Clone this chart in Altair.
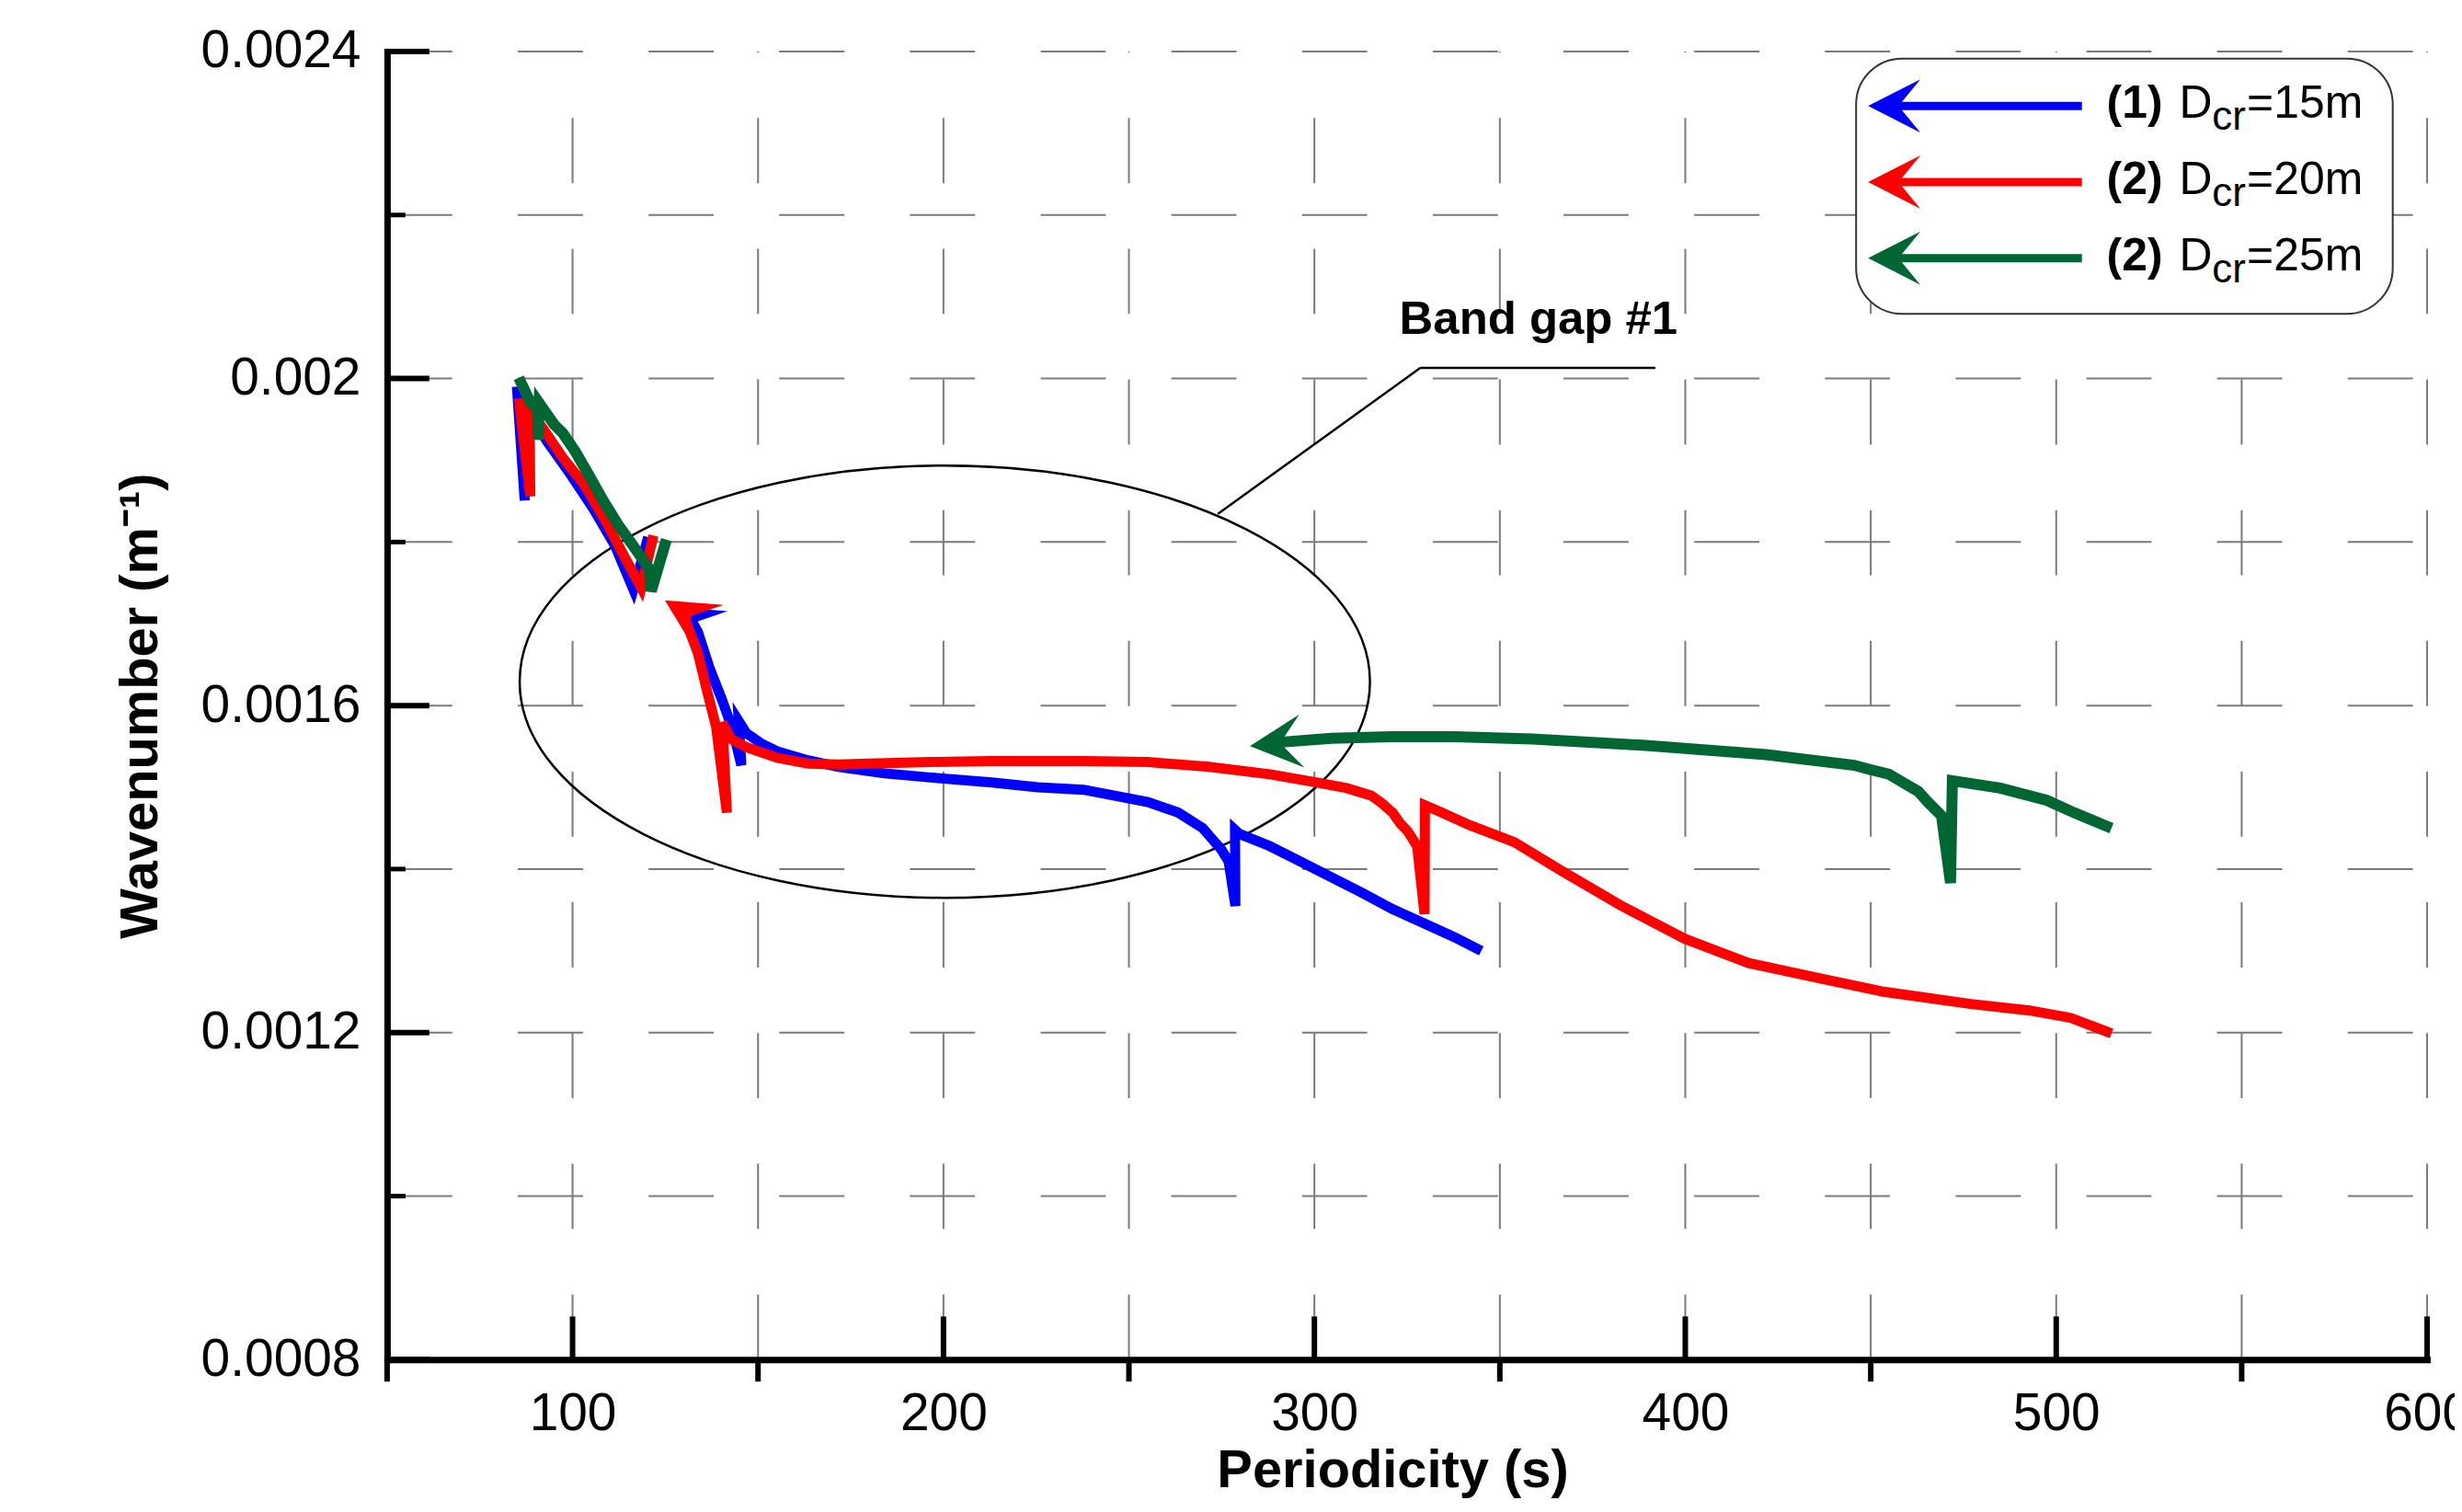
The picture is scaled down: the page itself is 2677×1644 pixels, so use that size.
import altair as alt
import pandas as pd

FONT = "Liberation Sans"

# ---------------- values ----------------
series_keys = ["15m", "20m", "25m"]
series_colors = ["#0000FF", "#FF0000", "#006633"]
series_widths = [11, 11, 12]

# D_cr = 15 m (blue)
blue_seg1_x = [85.0, 87.1, 86.9, 90.0, 93.3, 99.1, 105.7, 111.5, 116.4, 120.4]
blue_seg1_y = [0.00199, 0.001851, 0.00196, 0.001945, 0.001922, 0.001885, 0.00184, 0.001795, 0.001742, 0.001806]
blue_seg2_x = [130.8, 133.8, 137.0, 140.3, 143.2, 145.5, 144.8, 146.9, 151.1, 155.2, 163.5, 171.7, 184.1,
               196.5, 213.0, 225.4, 237.8, 255.1, 263.3, 269.9, 272.0, 274.9, 276.9, 278.7, 278.6, 279.8, 288.0,
               296.3, 304.6, 312.8, 321.1, 329.3, 337.6, 345.0]
blue_seg2_y = [0.001714, 0.00169, 0.001645, 0.001607, 0.00157, 0.001527, 0.001581, 0.001566, 0.001553,
               0.001544, 0.001533, 0.001525, 0.001517, 0.001512, 0.001506, 0.0015, 0.001497, 0.001482,
               0.001469, 0.00145, 0.001439, 0.001424, 0.001409, 0.001355, 0.001448, 0.001443, 0.001428, 0.001409,
               0.00139, 0.001371, 0.001351, 0.001334, 0.001317, 0.0013]

# D_cr = 20 m (red)
red_seg1_x = [85.5, 88.6, 88.4, 91.7, 97.4, 103.2, 109.0, 114.0, 118.5, 121.8]
red_seg1_y = [0.001976, 0.001856, 0.00196, 0.001941, 0.001903, 0.00187, 0.001825, 0.001782, 0.001744, 0.001808]
red_seg2_x = [129.8, 133.8, 136.2, 138.7, 141.6, 140.4, 142.8, 146.9, 155.2, 163.5, 171.7, 179.9, 196.5,
              213.0, 237.8, 255.1, 271.6, 288.0, 300.4, 308.7, 315.3, 318.2, 321.1, 323.1, 325.2, 327.7, 329.7,
              329.8, 333.4, 341.7, 353.9, 366.6, 382.4, 399.7, 417.1, 437.6, 453.4, 477.0, 492.8, 503.9, 514.9]
red_seg2_y = [0.001712, 0.001664, 0.001619, 0.001574, 0.001469, 0.001579, 0.001559, 0.001549, 0.001536,
              0.001529, 0.001528, 0.001529, 0.001531, 0.001532, 0.001532, 0.001531, 0.001525, 0.001516,
              0.001506, 0.001499, 0.00149, 0.0014805, 0.001469, 0.001456, 0.001446, 0.001428, 0.001345,
              0.001478, 0.001471, 0.001454, 0.001433, 0.001398, 0.001356, 0.001315, 0.001285, 0.001265,
              0.00125, 0.001235, 0.001227, 0.001218, 0.001199]

# D_cr = 25 m (green)
green_seg1_x = [85.5, 88.5, 90.6, 90.7, 91.0, 95.0, 97.4, 100.7, 104.0, 108.2, 112.3, 116.4, 120.6, 121.2, 125.3]
green_seg1_y = [0.002001, 0.001972, 0.001962, 0.001925, 0.00197, 0.001944, 0.001933, 0.001911, 0.001885,
                0.001851, 0.001821, 0.001795, 0.001768, 0.00174, 0.001803]
green_seg2_x = [290.5, 304.6, 321.1, 337.6, 358.7, 390.2, 421.8, 445.5, 449.6, 454.9, 458.3, 462.8, 465.4,
                469.1, 471.5, 472.0, 484.9, 497.5, 504.8, 514.9]
green_seg2_y = [0.001555, 0.00156, 0.001562, 0.001562, 0.001559, 0.001551, 0.00154, 0.001527, 0.001522,
                0.001516, 0.001507, 0.001495, 0.001482, 0.001465, 0.001383, 0.001508, 0.001499, 0.001484,
                0.001469, 0.00145]

# arrowhead tips at the start of the second branch of each curve
arrow_tip_x = [126.0, 124.9, 282.6]
arrow_tip_y = [0.001721, 0.0017286, 0.0015505]

# axes
x_major_ticks = [100, 200, 300, 400, 500, 600]
x_minor_ticks = [50, 150, 250, 350, 450, 550]
y_major_ticks = [0.0008, 0.0012, 0.0016, 0.002, 0.0024]
y_minor_ticks = [0.001, 0.0014, 0.0018, 0.0022]
x_grid = [50, 100, 150, 200, 250, 300, 350, 400, 450, 500, 550, 600]
y_grid = [0.0008, 0.001, 0.0012, 0.0014, 0.0016, 0.0018, 0.002, 0.0022, 0.0024]

# legend / annotation text
legend_numbers = ["(1)", "(2)", "(2)"]
legend_main = "D"
legend_sub = "cr"
legend_values = ["=15m", "=20m", "=25m"]
annotation_text = "Band gap #1"
x_title = "Periodicity (s)"
y_title = "Wavenumber (m\u207b\u00b9)"

# ---------------- layout / style ----------------
W, H = 2224, 1426
GRID = "#7a7a7a"
DASH = [71, 71.5]
ARROW = "M0,0 L1,-0.51 L0.58,0 L1,0.51 Z"
ARROW_SIZE = 12996
arrow_angles = [31.4, 31.4, 354.5]
ELLIPSE = ("M-1,0 C-1,-0.2807 -0.5523,-0.5083 0,-0.5083 C0.5523,-0.5083 1,-0.2807 1,0 "
           "C1,0.2807 0.5523,0.5083 0,0.5083 C-0.5523,0.5083 -1,0.2807 -1,0 Z")

xscale = alt.Scale(domain=[50, 600], nice=False, zero=False)
yscale = alt.Scale(domain=[0.0008, 0.0024], nice=False, zero=False)

xaxis = alt.Axis(values=x_major_ticks, format="d", title=x_title, titleFont=FONT, titleFontSize=58,
                 titleFontWeight="bold", titleColor="black", titleX=1096, titleY=139,
                 titleBaseline="alphabetic", titleAlign="center", titleAngle=0,
                 labelFont=FONT, labelFontSize=57, labelColor="black", labelPadding=31,
                 labelFlush=False, labelOverlap=False, labelBound=False,
                 ticks=False, tickSize=0, grid=False, domainColor="black", domainWidth=7,
                 domainCap="square", zindex=1)
yaxis = alt.Axis(values=y_major_ticks, format=".4~f", title=y_title, titleFont=FONT, titleFontSize=58,
                 titleFontWeight="bold", titleColor="black", titleX=-250.6, titleY=H / 2,
                 titleBaseline="alphabetic", titleAlign="center", titleAngle=270,
                 labelFont=FONT, labelFontSize=57, labelColor="black", labelPadding=29,
                 labelFlush=False, labelOverlap=False, labelBound=False,
                 ticks=False, tickSize=0, grid=False, domainColor="black", domainWidth=7,
                 domainCap="square", zindex=1)


def X():
    return alt.X("x:Q", scale=xscale, axis=xaxis)


def Y():
    return alt.Y("y:Q", scale=yscale, axis=yaxis)


one = pd.DataFrame({"k": [0]})


def rule_px(x1, y1, x2, y2, color, width):
    return alt.Chart(one).mark_rule(color=color, strokeWidth=width).encode(
        x=alt.value(x1), y=alt.value(y1), x2=alt.value(x2), y2=alt.value(y2))


def text_px(txt, x, y, size, weight="normal", align="left"):
    return alt.Chart(one).mark_text(text=txt, font=FONT, fontSize=size, fontWeight=weight,
                                    align=align, baseline="alphabetic", color="black").encode(
        x=alt.value(x), y=alt.value(y))


layers = []

# grid
layers.append(alt.Chart(pd.DataFrame({"x": x_grid})).mark_rule(
    color=GRID, strokeWidth=2, strokeDash=DASH).encode(x=X(), y=alt.value(H), y2=alt.value(0)))
layers.append(alt.Chart(pd.DataFrame({"y": y_grid})).mark_rule(
    color=GRID, strokeWidth=2, strokeDash=DASH).encode(y=Y(), x=alt.value(0), x2=alt.value(W)))

# ticks
layers.append(alt.Chart(pd.DataFrame({"x": x_major_ticks})).mark_rule(color="black", strokeWidth=6).encode(
    x=X(), y=alt.value(H), y2=alt.value(H - 47)))
layers.append(alt.Chart(pd.DataFrame({"x": x_minor_ticks})).mark_rule(color="black", strokeWidth=6).encode(
    x=X(), y=alt.value(H), y2=alt.value(H + 24)))
layers.append(alt.Chart(pd.DataFrame({"y": y_major_ticks})).mark_rule(color="black", strokeWidth=6).encode(
    y=Y(), x=alt.value(0), x2=alt.value(46)))
layers.append(alt.Chart(pd.DataFrame({"y": y_minor_ticks})).mark_rule(color="black", strokeWidth=5).encode(
    y=Y(), x=alt.value(0), x2=alt.value(20)))

# ellipse + annotation
layers.append(alt.Chart(one).mark_point(shape=ELLIPSE, size=859329, filled=False, color="black",
                                        strokeWidth=2.5, opacity=1).encode(
    x=alt.value(608.0), y=alt.value(687.0)))
layers.append(rule_px(1382.7, 345, 1126.3, 345, "black", 2.5))
layers.append(rule_px(1126.3, 345, 905.7, 504, "black", 2.5))
layers.append(text_px(annotation_text, 1255.2, 307.7, 51, weight="bold", align="center"))

# curves
segments = {
    "15m": [(blue_seg1_x, blue_seg1_y), (blue_seg2_x, blue_seg2_y)],
    "20m": [(red_seg1_x, red_seg1_y), (red_seg2_x, red_seg2_y)],
    "25m": [(green_seg1_x, green_seg1_y), (green_seg2_x, green_seg2_y)],
}
for k, key in enumerate(series_keys):
    rows = []
    for si, (xs, ys) in enumerate(segments[key]):
        for i, (xv, yv) in enumerate(zip(xs, ys)):
            rows.append({"x": xv, "y": yv, "seg": si, "i": i})
    df = pd.DataFrame(rows)
    layers.append(alt.Chart(df).mark_line(color=series_colors[k], strokeWidth=series_widths[k],
                                          strokeJoin="miter", strokeCap="butt").encode(
        x=X(), y=Y(), detail="seg:N", order="i:Q"))
    adf = pd.DataFrame({"x": [arrow_tip_x[k]], "y": [arrow_tip_y[k]]})
    layers.append(alt.Chart(adf).mark_point(shape=ARROW, size=ARROW_SIZE, filled=True, opacity=1,
                                            color=series_colors[k], strokeWidth=0,
                                            angle=arrow_angles[k]).encode(x=X(), y=Y()))

# legend box
layers.append(alt.Chart(one).mark_rect(cornerRadius=50, fill="white", stroke="#333333",
                                       strokeWidth=2).encode(
    x=alt.value(1601.5), x2=alt.value(2186.5), y=alt.value(7.7), y2=alt.value(286)))
for k in range(3):
    cy = 59.3 + 83 * k
    base = 72.5 + 83 * k
    layers.append(rule_px(1646.7, cy, 1847.7, cy, series_colors[k], 9))
    layers.append(alt.Chart(one).mark_point(shape=ARROW, size=ARROW_SIZE, filled=True, opacity=1,
                                            color=series_colors[k], strokeWidth=0).encode(
        x=alt.value(1614.6), y=alt.value(cy)))
    layers.append(text_px(legend_numbers[k], 1874.6, base, 50, weight="bold"))
    layers.append(text_px(legend_main, 1953.7, base, 50))
    layers.append(text_px(legend_sub, 1989.5, base + 12.8, 44))
    layers.append(text_px(legend_values[k], 2027.5, base, 50))

chart = alt.layer(*layers).properties(
    width=W, height=H,
    padding={"left": 414, "top": 46, "right": 30, "bottom": 150},
    autosize=alt.AutoSizeParams(type="none"),
    background="white",
).configure_view(stroke=None)

chart.save("out.html", embed_options={"renderer": "svg", "actions": False})
